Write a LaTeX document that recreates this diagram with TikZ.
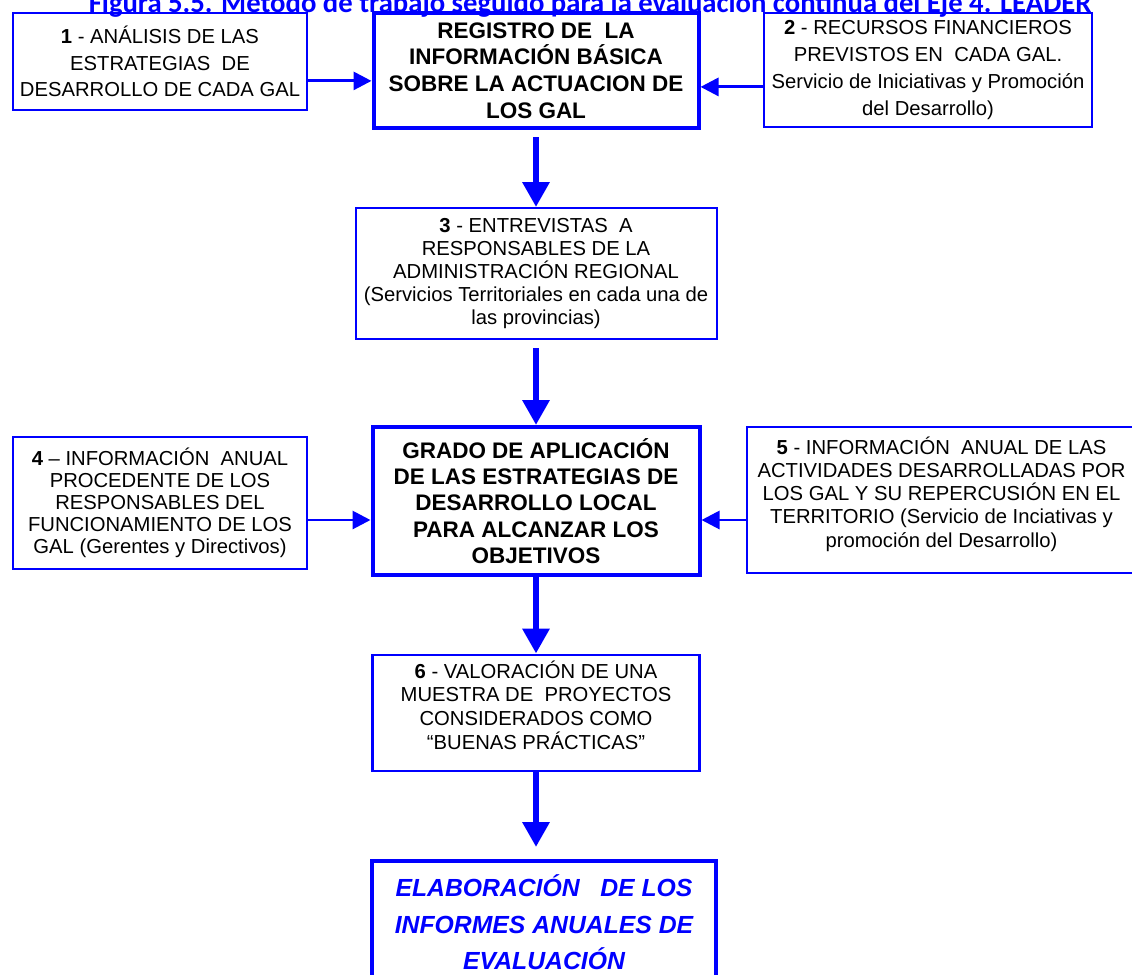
\documentclass[tikz,border=0pt]{standalone}
\usepackage{fontspec}
\setmainfont{Liberation Sans}
\newfontfamily\titlefont{Carlito}
\usetikzlibrary{arrows.meta}

\begin{document}
\begin{tikzpicture}[
		infobox/.style={draw=blue, line width=2.1pt, align=center, inner sep=0pt},
		mainbox/.style={draw=blue, line width=2.85pt, align=center, inner sep=0pt},
		smallarrow/.style={draw=blue, line width=2.1pt, -{Triangle[length=4.5mm, width=4.5mm]}},
		bigarrow/.style={draw=blue, line width=4.6pt, -{Triangle[length=6.25mm, width=6.5mm]}}
	]
		\useasboundingbox (0, 0) rectangle (28.3, -24.35);
		\clip (0, 0) rectangle (28.3, -24.35);

		\node (title) [anchor = base, text = blue, font = \titlefont\bfseries\fontsize{20.4}{22}\selectfont] at (14.75, -0.32) {Figura 5.5. Método de trabajo seguido para la evaluación continua del Eje 4. LEADER};

		% fila superior
		\node (info1) [infobox, minimum width = 7.35cm, minimum height = 2.425cm, font = \fontsize{14.4}{19}\selectfont] at (4.0, -1.5375) {\textbf{1} - ANÁLISIS DE LAS\\ESTRATEGIAS\ \ DE\\DESARROLLO DE CADA GAL};
		\node (registro) [mainbox, minimum width = 8.125cm, minimum height = 2.875cm, font = \bfseries\fontsize{16}{19}\selectfont] at (13.4, -1.7625) {REGISTRO DE\ \ LA\\INFORMACIÓN BÁSICA\\SOBRE LA ACTUACION DE\\LOS GAL};
		\node (info2) [infobox, minimum width = 8.2cm, minimum height = 2.85cm, font = \fontsize{14.4}{19}\selectfont] at (23.2, -1.75) {\textbf{2} - RECURSOS FINANCIEROS\\PREVISTOS EN\ \ CADA GAL.\\Servicio de Iniciativas y Promoción\\del Desarrollo)};

		\coordinate (r1) at ([yshift = -2.6mm]registro.west);
		\coordinate (r2) at ([yshift = -4.1mm]registro.east);
		\draw [smallarrow] (r1 -| info1.east) -- (r1);
		\draw [smallarrow] (r2 -| info2.west) -- (r2);

		\node (info3) [infobox, line width = 1.42pt, minimum width = 9.025cm, minimum height = 3.275cm, font = \fontsize{14.4}{16.4}\selectfont] at (13.4, -6.8375) {\textbf{3} - ENTREVISTAS\ \ A\\RESPONSABLES DE LA\\ADMINISTRACIÓN REGIONAL\\(Servicios Territoriales en cada una de\\las provincias)};
		\draw [bigarrow, shorten <= 1.75mm] (registro.south) -- (info3.north);

		% fila central
		\node (grado) [mainbox, minimum width = 8.175cm, minimum height = 3.7cm, font = \bfseries\fontsize{16}{18.7}\selectfont] at (13.4, -12.525) {GRADO DE APLICACIÓN\\DE LAS ESTRATEGIAS DE\\DESARROLLO LOCAL\\PARA ALCANZAR LOS\\OBJETIVOS};
		\node (info4) [infobox, minimum width = 7.35cm, minimum height = 3.3cm, font = \fontsize{14.4}{15.6}\selectfont] at (4.0, -12.575) {\textbf{4} – INFORMACIÓN\ \ ANUAL\\PROCEDENTE DE LOS\\RESPONSABLES DEL\\FUNCIONAMIENTO DE LOS\\GAL (Gerentes y Directivos)};
		\node (info5) [infobox, minimum width = 9.725cm, minimum height = 3.65cm, text depth = 0.4cm, font = \fontsize{14.4}{16.5}\selectfont] at (23.5375, -12.5) {\textbf{5} - INFORMACIÓN\ \ ANUAL DE LAS\\ACTIVIDADES DESARROLLADAS POR\\LOS GAL Y SU REPERCUSIÓN EN EL\\TERRITORIO (Servicio de Inciativas y\\promoción del Desarrollo)};
		\draw [bigarrow, shorten <= 2mm] (info3.south) -- (grado.north);

		\coordinate (g4) at ([yshift = -4.75mm]grado.west);
		\coordinate (g5) at ([yshift = -4.75mm]grado.east);
		\draw [smallarrow] (g4 -| info4.east) -- (g4);
		\draw [smallarrow] (g5 -| info5.west) -- (g5);

		% parte inferior
		\node (info6) [infobox, minimum width = 8.175cm, minimum height = 2.9cm, text depth = 0.4cm, font = \fontsize{14.4}{16.9}\selectfont] at (13.4, -17.825) {\textbf{6} - VALORACIÓN DE UNA\\MUESTRA DE\ \ PROYECTOS\\CONSIDERADOS COMO\\“BUENAS PRÁCTICAS”};
		\draw [bigarrow] (grado.south) -- (info6.north);

		\node (informes) [mainbox, text = blue, minimum width = 8.6cm, minimum height = 3.075cm, font = \bfseries\itshape\fontsize{17.6}{26}\selectfont] at (13.6, -23.0625) {ELABORACIÓN\ \ \ DE LOS\\INFORMES ANUALES DE\\EVALUACIÓN};
		\draw [bigarrow, shorten >= 3mm] (info6.south) -- (info6.south |- informes.north);
	\end{tikzpicture}
\end{document}
